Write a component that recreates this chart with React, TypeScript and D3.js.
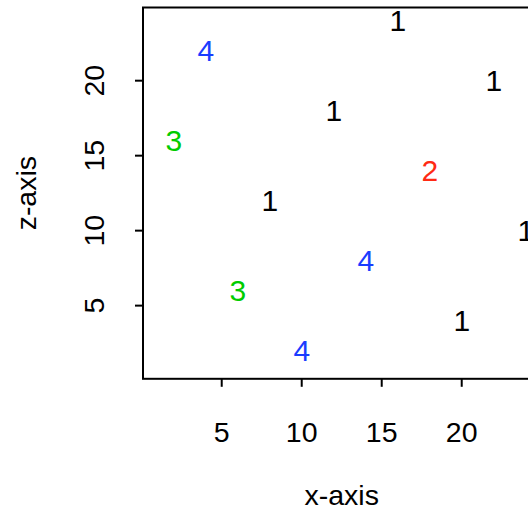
import React from "react";
import * as d3 from "d3";

const xs = [2, 4, 6, 8, 10, 12, 14, 16, 18, 20, 22, 24];
const zs = [16, 22, 6, 12, 2, 18, 8, 24, 14, 4, 20, 10];
const groups = ["3", "4", "3", "1", "4", "1", "4", "1", "2", "1", "1", "1"];
const xTicks = [5, 10, 15, 20];
const zTicks = [5, 10, 15, 20];
const groupColors: Record<string, string> = {
  "1": "#000000",
  "2": "#ff2a14",
  "3": "#00cc00",
  "4": "#1a3cff",
};

export default function App() {
  const width = 528;
  const height = 512;
  const left = 143;
  const top = 7.5;
  const bottom = 378.8;
  const font = "'Liberation Sans', Arial, Helvetica, sans-serif";
  const fs = 28.5;
  const pfs = 30;

  const x = d3.scaleLinear().domain([0.08, 24.92]).range([left, left + 24.84 * 16]);
  const y = d3.scaleLinear().domain([0.12, 24.88]).range([bottom, top]);

  const boxRight = x(24.92);
  const midX = (left + boxRight) / 2;
  const midY = (top + bottom) / 2;

  return (
    <svg
      width={width}
      height={height}
      style={{ position: "absolute", left: 0, top: 0, background: "white" }}
      fontFamily={font}
    >
      <rect
        x={left}
        y={top}
        width={boxRight - left}
        height={bottom - top}
        fill="none"
        stroke="black"
        strokeWidth={2}
      />
      {xTicks.map((t) => (
        <g key={"x" + t}>
          <line x1={x(t)} x2={x(t)} y1={bottom} y2={bottom + 8} stroke="black" strokeWidth={2} />
          <text x={x(t)} y={442} fontSize={fs} textAnchor="middle">
            {t}
          </text>
        </g>
      ))}
      {zTicks.map((t) => (
        <g key={"z" + t}>
          <line x1={left - 8} x2={left} y1={y(t)} y2={y(t)} stroke="black" strokeWidth={2} />
          <text
            transform={`translate(104, ${y(t)}) rotate(-90)`}
            fontSize={fs}
            textAnchor="middle"
          >
            {t}
          </text>
        </g>
      ))}
      {xs.map((xv, i) => (
        <text
          key={"p" + i}
          x={x(xv)}
          y={y(zs[i])}
          dy="0.36em"
          fontSize={pfs}
          textAnchor="middle"
          fill={groupColors[groups[i]]}
        >
          {groups[i]}
        </text>
      ))}
      <text x={midX} y={505} fontSize={fs} textAnchor="middle">
        x-axis
      </text>
      <text transform={`translate(36, ${midY}) rotate(-90)`} fontSize={fs} textAnchor="middle">
        z-axis
      </text>
    </svg>
  );
}
